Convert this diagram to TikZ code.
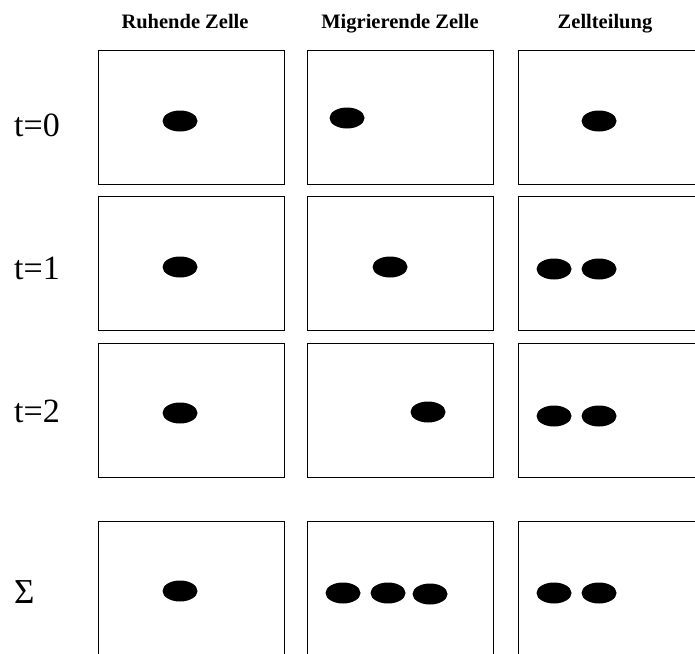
\documentclass[tikz,border=0pt]{standalone}
\usepackage{fontspec}
\setmainfont{Liberation Serif}
\usetikzlibrary{shapes.geometric}
\begin{document}
\begin{tikzpicture}[x=1pt,y=-1pt,
  cellbox/.style={draw=black,line width=1.1pt,rectangle,minimum width=186pt,minimum height=134pt,inner sep=0pt,anchor=north west},
  cell/.style={ellipse,fill=black,draw=none,minimum width=35pt,minimum height=21pt,inner sep=0pt},
  head/.style={font=\fontsize{20.5}{24}\selectfont\bfseries,anchor=base,inner sep=0pt},
  rowlab/.style={font=\fontsize{34}{38}\selectfont,anchor=base west,inner sep=0pt}]
\useasboundingbox (0,0) rectangle (695,653);
\clip (0,0) rectangle (695,653);
% headers
\node[head] (h1) at (185,28) {Ruhende Zelle};
\node[head] (h2) at (400,28) {Migrierende Zelle};
\node[head] (h3) at (605,28) {Zellteilung};
% row labels
\node[rowlab] (l0) at (14,136.5) {t=0};
\node[rowlab] (l1) at (14,279) {t=1};
\node[rowlab] (l2) at (14,422) {t=2};
\node[rowlab,font=\fontsize{35}{40}\selectfont] (ls) at (14,603) {Σ};
% boxes
\node[cellbox] (b11) at (98,50) {};
\node[cellbox] (b12) at (307,50) {};
\node[cellbox] (b13) at (518,50) {};
\node[cellbox] (b21) at (98,196) {};
\node[cellbox] (b22) at (307,196) {};
\node[cellbox] (b23) at (518,196) {};
\node[cellbox] (b31) at (98,343) {};
\node[cellbox] (b32) at (307,343) {};
\node[cellbox] (b33) at (518,343) {};
\node[cellbox] (b41) at (98,521) {};
\node[cellbox] (b42) at (307,521) {};
\node[cellbox] (b43) at (518,521) {};
% cells
\node[cell] (e11) at (180,121) {};
\node[cell] (e12) at (347,118) {};
\node[cell] (e13) at (599,121) {};
\node[cell] (e21) at (180,267) {};
\node[cell] (e22) at (390,267) {};
\node[cell] (e23a) at (554,269) {};
\node[cell] (e23b) at (599,269) {};
\node[cell] (e31) at (180,413) {};
\node[cell] (e32) at (428,412) {};
\node[cell] (e33a) at (554,416) {};
\node[cell] (e33b) at (599,416) {};
\node[cell] (e41) at (180,591) {};
\node[cell] (e42a) at (343,593) {};
\node[cell] (e42b) at (388,593) {};
\node[cell] (e42c) at (430,594) {};
\node[cell] (e43a) at (554,593) {};
\node[cell] (e43b) at (599,593) {};
\end{tikzpicture}
\end{document}
